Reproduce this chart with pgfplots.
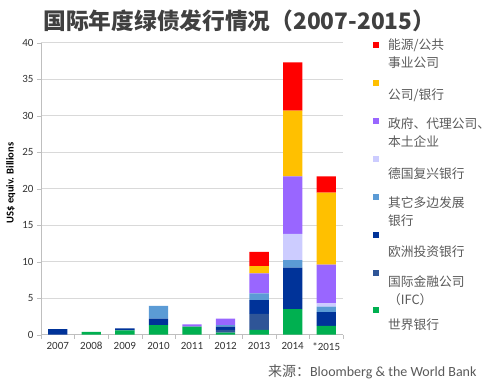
\documentclass[border=0pt]{standalone}
\usepackage{pgfplots}
\pgfplotsset{compat=1.18}
\usepackage{fontspec}
\setmainfont{Carlito}
\newfontfamily\cjk{Noto Sans CJK SC}
\definecolor{cEnergy}{HTML}{FF0000}
\definecolor{cCorp}{HTML}{FFC000}
\definecolor{cGov}{HTML}{9966FF}
\definecolor{cKfW}{HTML}{CCCCFF}
\definecolor{cMDB}{HTML}{5B9BD5}
\definecolor{cEIB}{HTML}{003399}
\definecolor{cIFC}{HTML}{2F5597}
\definecolor{cWB}{HTML}{00B050}
\definecolor{txtgray}{HTML}{404040}
\definecolor{leggray}{HTML}{595959}
\definecolor{gridgray}{HTML}{D9D9D9}
\definecolor{axgray}{HTML}{BFBFBF}
\newcommand{\lentry}[2]{\parbox[t][37.1pt][t]{110pt}{\vspace{#1}\fontsize{12.75}{18}\selectfont\cjk\color{leggray}#2}}
\begin{document}
\begin{tikzpicture}
\useasboundingbox (-41pt,-47.3pt) rectangle (459pt,334.7pt);
\begin{axis}[
  scale only axis, width=302pt, height=292pt,
  ybar stacked, bar width=19.3pt,
  xmin=-0.5, xmax=8.5, ymin=0, ymax=40,
  xtick={0,...,8},
  xticklabels={2007,2008,2009,2010,2011,2012,2013,2014,*2015},
  minor xtick={-0.5,0.5,...,8.5},
  ytick={0,5,...,40},
  /pgf/number format/assume math mode=true,
  axis lines*=left,
  axis line style={draw=axgray},
  tick align=outside, tick pos=left,
  major tick length=4pt, minor tick length=4pt,
  major x tick style={draw=none},
  minor x tick style={draw=axgray},
  ytick style={draw=axgray},
  ymajorgrids, grid style={draw=gridgray},
  tick label style={font=\fontsize{11}{12}\selectfont, text=black!80},
  ylabel={\textbf{US\$ equiv. Billions}},
  ylabel style={at={(axis description cs:-0.1,0.52)}, anchor=center, font=\fontsize{10.5}{12}\selectfont},
  every axis plot/.append style={draw=none},
  reverse legend,
  legend cell align=left,
  legend style={draw=none, fill=none, at={(1.0993,1.0144)}, anchor=north west,
    inner sep=0pt, row sep=0pt, nodes={inner sep=0pt}},
  legend image code/.code={\path[fill=none,draw=none] (0pt,0pt) rectangle (15pt,-37.1pt); \path[#1,draw=none] (0pt,-3pt) rectangle (6pt,-9pt);},
]
\addplot[fill=cWB] coordinates {(0,0) (1,0.4) (2,0.6) (3,1.3) (4,1.1) (5,0.3) (6,0.65) (7,3.5) (8,1.2)};
\addlegendentry{\lentry{14.7pt}{世界银行}}
\addplot[fill=cIFC] coordinates {(0,0) (1,0) (2,0) (3,0) (4,0) (5,0.35) (6,2.2) (7,0) (8,0)};
\addlegendentry{\lentry{9.7pt}{国际金融公司\\（IFC）}}
\addplot[fill=cEIB] coordinates {(0,0.75) (1,0) (2,0.27) (3,0.9) (4,0) (5,0.45) (6,1.9) (7,5.7) (8,1.9)};
\addlegendentry{\lentry{17.7pt}{欧洲投资银行}}
\addplot[fill=cMDB] coordinates {(0,0) (1,0) (2,0) (3,1.75) (4,0) (5,0.2) (6,0.9) (7,1.0) (8,0.75)};
\addlegendentry{\lentry{6.2pt}{其它多边发展\\银行}}
\addplot[fill=cKfW] coordinates {(0,0) (1,0) (2,0) (3,0) (4,0) (5,0) (6,0) (7,3.6) (8,0.45)};
\addlegendentry{\lentry{15.2pt}{德国复兴银行}}
\addplot[fill=cGov] coordinates {(0,0) (1,0) (2,0) (3,0) (4,0.3) (5,0.9) (6,2.75) (7,7.9) (8,5.3)};
\addlegendentry{\lentry{3.7pt}{政府、代理公司、\\本土企业}}
\addplot[fill=cCorp] coordinates {(0,0) (1,0) (2,0) (3,0) (4,0) (5,0) (6,1.0) (7,9.0) (8,9.85)};
\addlegendentry{\lentry{12.7pt}{公司/银行}}
\addplot[fill=cEnergy] coordinates {(0,0) (1,0) (2,0) (3,0) (4,0) (5,0) (6,1.95) (7,6.6) (8,2.25)};
\addlegendentry{\lentry{0pt}{能源/公共\\事业公司}}
\end{axis}
\node[anchor=west, text=txtgray, font=\cjk\bfseries\fontsize{22.7}{27}\selectfont] at (-1pt,313.7pt) {国际年度绿债发行情况（2007-2015）};
\node[anchor=east, text=leggray, font=\fontsize{14}{16}\selectfont] at (439pt,-37.3pt) {{\cjk 来源：}Bloomberg \& the World Bank};
\end{tikzpicture}
\end{document}
